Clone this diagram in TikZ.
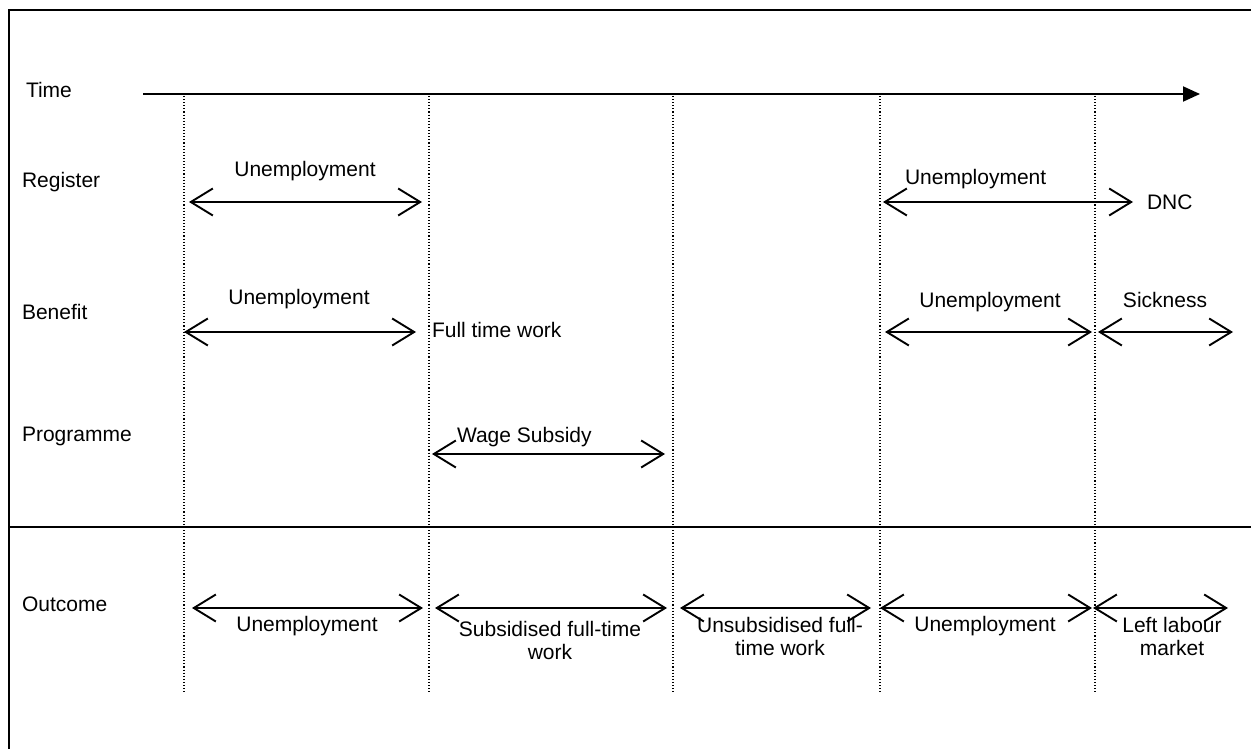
\documentclass[tikz,border=0pt]{standalone}
\usepackage{fontspec}
\setmainfont{Liberation Sans}
\usetikzlibrary{arrows.meta}
\begin{document}
\begin{tikzpicture}[x=1pt,y=-1pt,
  every node/.style={inner sep=0pt,outer sep=0pt,font=\fontsize{21}{23.5}\selectfont},
  frame/.style={line width=2.4pt},
  span/.style={line width=1.9pt,{Straight Barb[length=22pt,width=27pt,line width=1.9pt]}-{Straight Barb[length=22pt,width=27pt,line width=1.9pt]}},
  timeline/.style={line width=2pt,-{Triangle[length=17pt,width=15pt]}},
  guide/.style={line width=1.1pt,dotted},
  lbl/.style={anchor=base},
  row/.style={anchor=base west},
  two/.style={anchor=north,align=center}]
\useasboundingbox (0,0) rectangle (1251,749);
% frame
\coordinate (fbl) at (9,749);
\coordinate (ftl) at (9,10);
\coordinate (ftr) at (1251,10);
\draw[frame] (fbl) -- (ftl) -- (ftr);
\coordinate (sepL) at (9,527);
\coordinate (sepR) at (1251,527);
\draw[frame] (sepL) -- (sepR);
% row labels
\node[row] (tTime) at (26,98) {Time};
\node[row] (tReg) at (22,188) {Register};
\node[row] (tBen) at (22,319) {Benefit};
\node[row] (tProg) at (22,441) {Programme};
\node[row] (tOut) at (22,611) {Outcome};
% time axis
\coordinate (ta) at (143,94);
\coordinate (tb) at (1200,94);
\draw[timeline] (ta) -- (tb);
% dotted guides
\foreach \x [count=\i] in {184,429,673,880,1095}{
  \coordinate (g\i a) at (\x,96);
  \coordinate (g\i b) at (\x,694);
  \draw[guide] (g\i a) -- (g\i b);
}
% Register
\coordinate (r1a) at (189,202); \coordinate (r1b) at (422,202);
\draw[span] (r1a) -- (r1b);
\node[lbl] (r1t) at (305,177) {Unemployment};
\coordinate (r2a) at (883,202); \coordinate (r2b) at (1133,202);
\draw[span] (r2a) -- (r2b);
\node[row] (r2t) at (905,185) {Unemployment};
\node[row] (dnc) at (1147,210) {DNC};
% Benefit
\coordinate (b1a) at (184,332); \coordinate (b1b) at (416,332);
\draw[span] (b1a) -- (b1b);
\node[lbl] (b1t) at (299,304) {Unemployment};
\node[row] (ftw) at (432,337) {Full time work};
\coordinate (b2a) at (885,332); \coordinate (b2b) at (1092,332);
\draw[span] (b2a) -- (b2b);
\node[lbl] (b2t) at (990,307) {Unemployment};
\coordinate (b3a) at (1098,332); \coordinate (b3b) at (1233,332);
\draw[span] (b3a) -- (b3b);
\node[lbl] (b3t) at (1165,307) {Sickness};
% Programme
\coordinate (p1a) at (432,454); \coordinate (p1b) at (665,454);
\draw[span] (p1a) -- (p1b);
\node[row] (p1t) at (457,442) {Wage Subsidy};
% Outcome
\coordinate (o1a) at (192,608); \coordinate (o1b) at (423,608);
\draw[span] (o1a) -- (o1b);
\node[lbl] (o1t) at (307,631) {Unemployment};
\coordinate (o2a) at (435,608); \coordinate (o2b) at (667,608);
\draw[span] (o2a) -- (o2b);
\node[two] (o2t) at (550,621) {Subsidised full-time\\work};
\coordinate (o3a) at (680,608); \coordinate (o3b) at (871,608);
\draw[span] (o3a) -- (o3b);
\node[two] (o3t) at (780,617) {Unsubsidised full-\\time work};
\coordinate (o4a) at (880,608); \coordinate (o4b) at (1092,608);
\draw[span] (o4a) -- (o4b);
\node[lbl] (o4t) at (985,631) {Unemployment};
\coordinate (o5a) at (1093,608); \coordinate (o5b) at (1228,608);
\draw[span] (o5a) -- (o5b);
\node[two] (o5t) at (1172,617) {Left labour\\market};
\end{tikzpicture}
\end{document}
